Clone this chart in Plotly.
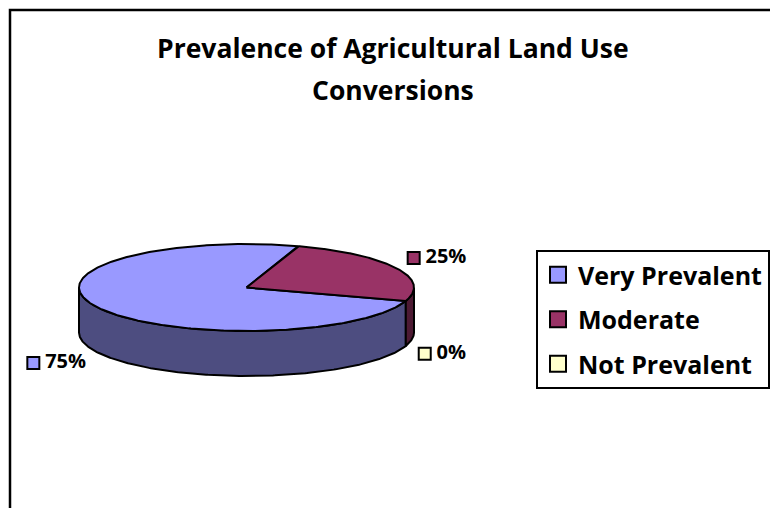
import numpy as np
import plotly.graph_objects as go

categories = ["Very Prevalent", "Moderate", "Not Prevalent"]
values = [75, 25, 0]
label_texts = ["75%", "25%", "0%"]
title_lines = ["Prevalence of Agricultural Land Use", "Conversions"]
top_colors = ["#9999FF", "#993366", "#FFFFCC"]
side_colors = ["#4D4D80", "#4D1A33", "#80806A"]

FONT = "Open Sans"

# geometry of the 3D pie (in pixel-like axis units)
cx, cy, a, b, depth = 246.5, 287.5, 167.5, 43.5, 45
start_deg = -18.0  # first slice start (math angle), slices go clockwise

def proj(th, dz=0.0):
    return cx + a * np.cos(th), cy - b * np.sin(th) + dz

fig = go.Figure()
total = float(sum(values))
angles = []
cur = np.radians(start_deg)
for v in values:
    span = 2 * np.pi * v / total
    angles.append((cur, cur - span))
    cur -= span

# walls (outer sides) visible in the front half
for i, (t0, t1) in enumerate(angles):
    if t0 == t1:
        continue
    ths = np.linspace(t0, t1, 400)
    vis = np.sin(ths) <= 1e-9
    segs = []
    curseg = []
    for th, vv in zip(ths, vis):
        if vv:
            curseg.append(th)
        elif curseg:
            segs.append(curseg); curseg = []
    if curseg:
        segs.append(curseg)
    for s in segs:
        s = np.array(s)
        xt, yt = proj(s)
        xb, yb = proj(s[::-1], depth)
        xs = np.concatenate([xt, xb, xt[:1]])
        ys = np.concatenate([yt, yb, yt[:1]])
        fig.add_trace(go.Scatter(x=xs, y=ys, mode="lines", fill="toself",
                                 fillcolor=side_colors[i],
                                 line=dict(color="black", width=2),
                                 hoverinfo="skip", showlegend=False))

# top faces
for i, (t0, t1) in enumerate(angles):
    if t0 == t1:
        continue
    ths = np.linspace(t0, t1, 400)
    xt, yt = proj(ths)
    xs = np.concatenate([[cx], xt, [cx]])
    ys = np.concatenate([[cy], yt, [cy]])
    fig.add_trace(go.Scatter(x=xs, y=ys, mode="lines", fill="toself",
                             fillcolor=top_colors[i],
                             line=dict(color="black", width=2),
                             hoverinfo="skip", showlegend=False))

# data labels
kx, ky = 1.1, 1.5
for i, (t0, t1) in enumerate(angles):
    mid = (t0 + t1) / 2
    lx = cx + a * kx * np.cos(mid)
    ly = cy - b * ky * np.sin(mid)
    if np.sin(mid) < 0:
        ly += depth + 1
    w = 16 + 11 * len(label_texts[i])
    mx = lx - w if np.cos(mid) < 0 else lx + 3
    fig.add_trace(go.Scatter(x=[mx], y=[ly], mode="markers+text",
                             text=["\u2009" + label_texts[i]], textposition="middle right",
                             textfont=dict(family=FONT, size=20, color="black", weight="bold"),
                             marker=dict(symbol="square", size=12, color=top_colors[i],
                                         line=dict(color="black", width=2)),
                             hoverinfo="skip", showlegend=False, cliponaxis=False))

# legend entries
for i, c in enumerate(categories):
    fig.add_trace(go.Scatter(x=[None], y=[None], mode="markers", name=c,
                             legendgroup=c,
                             marker=dict(symbol="square", size=16, color=top_colors[i],
                                         line=dict(color="black", width=2))))

fig.add_shape(type="rect", xref="x", yref="y", x0=10, y0=10, x1=800, y1=540,
              line=dict(color="black", width=2.5), fillcolor="rgba(0,0,0,0)")

for j, (t, yc) in enumerate(zip(title_lines, [48, 90])):
    fig.add_annotation(text=t, xref="x", yref="y", x=393, y=yc,
                       xanchor="center", yanchor="middle", showarrow=False,
                       font=dict(family=FONT, size=26.5, color="black", weight="bold"))

fig.update_layout(
    width=770, height=508,
    margin=dict(l=0, r=0, t=0, b=0),
    paper_bgcolor="white", plot_bgcolor="white",
    xaxis=dict(range=[0, 770], visible=False, fixedrange=True),
    yaxis=dict(range=[508, 0], visible=False, fixedrange=True),
    legend=dict(x=536 / 770, y=1 - 250 / 508, xanchor="left", yanchor="top",
                bordercolor="black", borderwidth=2, bgcolor="white",
                font=dict(family=FONT, size=25, color="black", weight="bold"),
                tracegroupgap=9, itemwidth=30),
    showlegend=True,
)

fig.write_html("out.html")
